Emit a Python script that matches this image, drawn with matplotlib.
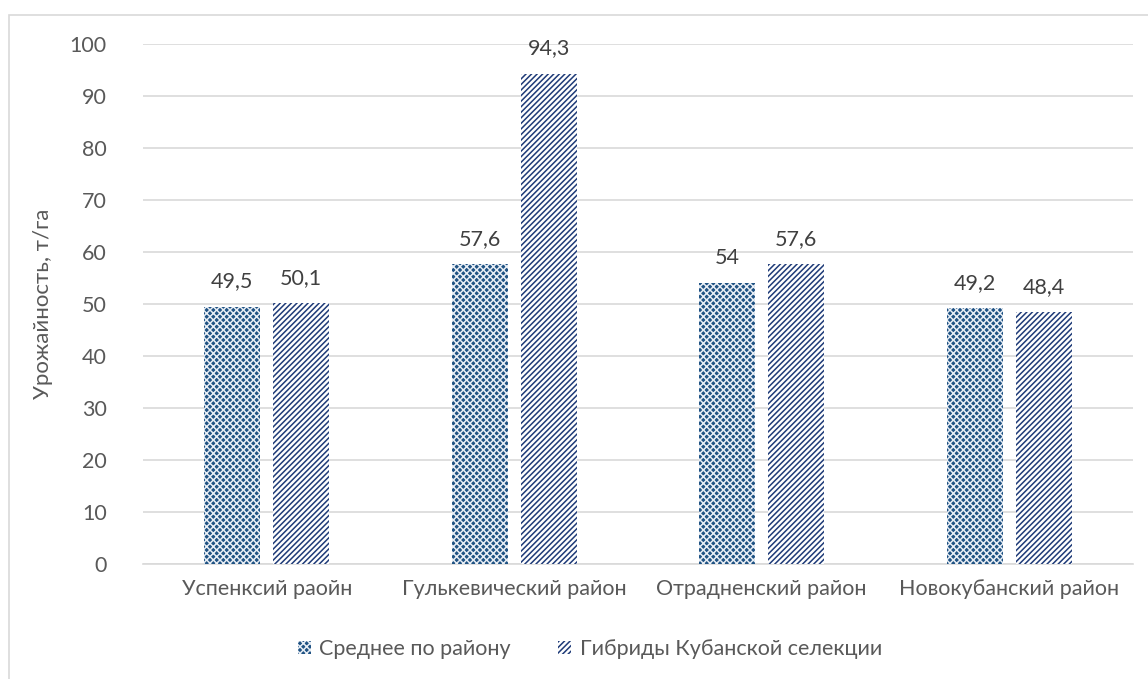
import numpy as np
import matplotlib
matplotlib.use("Agg")
from matplotlib import pyplot as plt
from matplotlib.patches import Rectangle

districts = ["Успенксий раойн", "Гулькевический район", "Отрадненский район", "Новокубанский район"]
avg_values = [49.5, 57.6, 54, 49.2]
hybrid_values = [50.1, 94.3, 57.6, 48.4]
avg_labels = ["49,5", "57,6", "54", "49,2"]
hybrid_labels = ["50,1", "94,3", "57,6", "48,4"]
series_names = ["Среднее по району", "Гибриды Кубанской селекции"]

plt.rcParams['font.family'] = ['Lato', 'DejaVu Sans']
plt.rcParams['hatch.linewidth'] = 1.1
text_color = '#595959'
fs = 15.5

fig = plt.figure(figsize=(11.48, 6.79), dpi=100)
ax = fig.add_axes([143 / 1148, 1 - 564 / 679, 990 / 1148, 520 / 679])

# chart border (only left and top visible in the crop)
fig.patches.append(Rectangle((9 / 1148, -0.5), 2, 1.5 - 15 / 679, transform=fig.transFigure,
                             fill=False, edgecolor='#D9D9D9', linewidth=1.2))

x = np.arange(len(districts))
width = 0.226
off = 0.139
b1 = ax.bar(x - off, avg_values, width, facecolor='#1F5283', edgecolor='#E8EEF5', hatch='xxxxx',
            linewidth=0, label=series_names[0], zorder=3)
b2 = ax.bar(x + off, hybrid_values, width, facecolor='white', edgecolor='#1F3B78', hatch='//////',
            linewidth=0, label=series_names[1], zorder=3)

for rect, lab in zip(b1, avg_labels):
    ax.annotate(lab, (rect.get_x() + rect.get_width() / 2, rect.get_height()), xytext=(0, 11),
                textcoords='offset points', ha='center', va='bottom', fontsize=fs, color='#404040')
for rect, lab in zip(b2, hybrid_labels):
    ax.annotate(lab, (rect.get_x() + rect.get_width() / 2, rect.get_height()), xytext=(0, 11),
                textcoords='offset points', ha='center', va='bottom', fontsize=fs, color='#404040')

ax.set_xlim(-0.5, len(districts) - 0.5)
ax.set_ylim(0, 100)
ax.set_yticks(np.arange(0, 101, 10))
ax.set_xticks(x)
ax.set_xticklabels(districts)
ax.tick_params(axis='both', length=0, labelsize=fs, colors=text_color)
ax.tick_params(axis='y', pad=26)
ax.tick_params(axis='x', pad=11)
ax.grid(axis='y', color='#D9D9D9', linewidth=1.2, zorder=0)
for s in ['left', 'right', 'top']:
    ax.spines[s].set_visible(False)
ax.spines['bottom'].set_color('#D9D9D9')
ax.spines['bottom'].set_linewidth(1.2)
ax.set_ylabel("Урожайность, т/га", fontsize=16, color=text_color, labelpad=12)

fig.legend(handles=[b1, b2], loc='center', bbox_to_anchor=(590 / 1148, 1 - 649 / 679), ncol=2,
           frameon=False, fontsize=fs, labelcolor=text_color, handlelength=0.6, handleheight=0.6,
           handletextpad=0.4, columnspacing=2.2)

fig.savefig("out.png", dpi=100)
